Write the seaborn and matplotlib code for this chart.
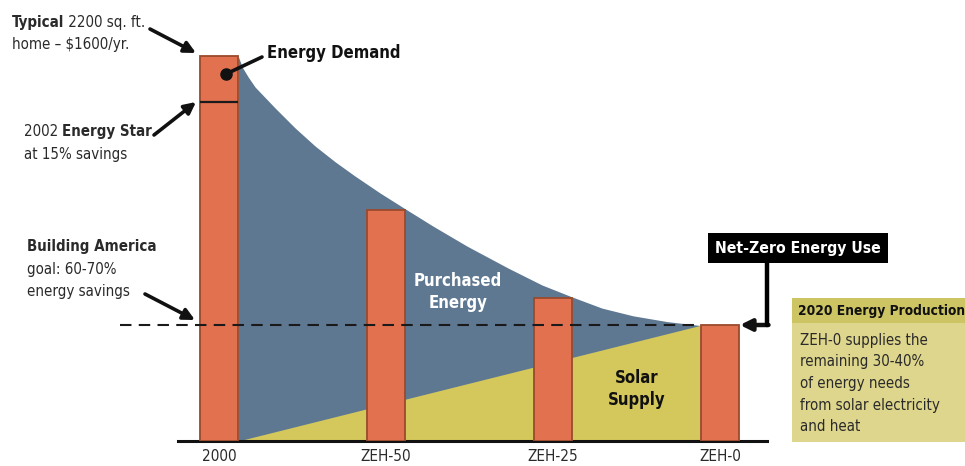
import numpy as np
import matplotlib
matplotlib.use("Agg")
import matplotlib.pyplot as plt
import matplotlib.font_manager as fm
from matplotlib.lines import Line2D
from matplotlib.patches import Rectangle
import seaborn as sns

# ---------------- data ----------------
categories = ["2000", "ZEH-50", "ZEH-25", "ZEH-0"]
demand = [100, 60, 37, 30]          # relative energy demand (2000 = 100)
energy_star = 88                    # 2002 Energy Star level
goal = 30                           # Building America goal level
# purchased-energy envelope
curve_x = [0.114, 0.140, 0.175, 0.216, 0.335, 0.455, 0.575, 0.695, 0.814, 0.964, 1.114,
           1.281, 1.485, 1.731, 1.934, 2.114, 2.293, 2.479, 2.683, 2.88]
curve_y = [100, 97.0, 94.5, 91.9, 86.5, 81.3, 76.6, 72.5, 68.8, 64.4, 60.3,
           55.8, 50.6, 44.9, 40.5, 37.4, 34.5, 32.5, 31.0, 30]
# solar supply wedge
solar_x = [0.114, 2.88]
solar_y = [0, 30]

# ---------------- style ----------------
sns.set_style("white")
names = {f.name for f in fm.fontManager.ttflist}
if "Liberation Sans Narrow" in names:
    FAM = ["Liberation Sans Narrow", "DejaVu Sans"]
    STRETCH = "normal"
else:
    FAM = ["DejaVu Sans"]
    STRETCH = "condensed"
plt.rcParams["font.family"] = FAM
plt.rcParams["font.stretch"] = STRETCH

ORANGE = "#E27150"
EDGE = "#9A4A2C"
BLUE = "#5E7892"
YELLOW = "#D4C85C"
BOX = "#DED68C"
BOXHEAD = "#CDC464"
TXT = "#2a2a2a"
FS = 10.8
FSB = 12

W, H = 965, 466
fig = plt.figure(figsize=(W / 100, H / 100), dpi=100)
ax = fig.add_axes([178 / W, (H - 441) / H, 589 / W, 441 / H])

def P(x, y):
    return (x, H - y)

# areas
ax.fill_between(curve_x, 0, curve_y, color=BLUE, lw=0, zorder=1)
ax.fill_between(solar_x, 0, solar_y, color=YELLOW, lw=0, zorder=1.5)

# bars
sns.barplot(x=categories, y=demand, width=0.23, color=ORANGE, saturation=1,
            edgecolor=EDGE, linewidth=1.3, ax=ax)
for p in ax.patches:
    p.set_zorder(3)

ax.hlines(energy_star, -0.115, 0.115, color="#1a1a1a", lw=1.6, zorder=4)
ax.hlines(goal, -0.593, 2.885, color="#1a1a1a", lw=1.5,
          linestyles=(0, (5.5, 3.5)), zorder=4, clip_on=False)

ax.set_xlim(-0.2455, 3.281)
ax.set_ylim(0, 114.5)
for s in ["top", "left", "right"]:
    ax.spines[s].set_visible(False)
ax.spines["bottom"].set_linewidth(2.2)
ax.spines["bottom"].set_color("#111111")
ax.set_yticks([])
ax.set_xlabel("")
ax.set_ylabel("")
ax.tick_params(axis="x", length=0, pad=6, labelsize=11, labelcolor=TXT)

# ---------------- annotations ----------------
def txt(x, y, s, size=FS, weight="normal", color=TXT, ha="left", va="baseline", z=8):
    return ax.annotate(s, xy=P(x, y), xycoords="figure pixels", fontsize=size,
                       fontweight=weight, color=color, ha=ha, va=va,
                       annotation_clip=False, zorder=z)

def pair(x, y, bold, normal, size=FS, bold_first=True):
    if bold_first:
        t1 = txt(x, y, bold, size, "bold", va="bottom")
        ax.annotate(normal, xy=(1, 0), xycoords=t1, fontsize=size, color=TXT,
                    ha="left", va="bottom", zorder=8)
    else:
        t1 = txt(x, y, normal, size, "normal", va="bottom")
        ax.annotate(bold, xy=(1, 0), xycoords=t1, fontsize=size, color=TXT,
                    fontweight="bold", ha="left", va="bottom", zorder=8)

def arrow(tail, head, lw=2.6):
    ax.annotate("", xy=P(*head), xytext=P(*tail), xycoords="figure pixels",
                textcoords="figure pixels", annotation_clip=False, zorder=8,
                arrowprops=dict(arrowstyle="-|>", lw=lw, color="#111111",
                                mutation_scale=17, shrinkA=0, shrinkB=0))

def frect(x0, y0, x1, y1, color, z):
    ax.add_patch(Rectangle((x0 / W, 1 - y1 / H), (x1 - x0) / W, (y1 - y0) / H,
                           transform=fig.transFigure, facecolor=color,
                           edgecolor="none", clip_on=False, zorder=z))

# Typical home
pair(12, 30, "Typical", " 2200 sq. ft.")
txt(12, 52, "home \u2013 $1600/yr.", va="bottom")
arrow((150, 29), (196, 53))

# Energy demand
txt(267, 58, "Energy Demand", size=FSB, weight="bold", color="#111111")
ax.annotate("", xy=P(262, 57), xytext=P(226, 74), xycoords="figure pixels",
            textcoords="figure pixels", annotation_clip=False, zorder=8,
            arrowprops=dict(arrowstyle="-", lw=2.6, color="#111111",
                            shrinkA=0, shrinkB=0))
fig.add_artist(Line2D([226 / W], [1 - 74 / H], marker="o", markersize=8,
                      color="#111111"))

# Energy Star
pair(24, 139, "Energy Star", "2002 ", bold_first=False)
txt(24, 162, "at 15% savings", va="bottom")
arrow((154, 135), (196, 102))

# Building America
txt(27, 254, "Building America", weight="bold", va="bottom")
txt(27, 277, "goal: 60-70%", va="bottom")
txt(27, 299, "energy savings", va="bottom")
arrow((145, 294), (195, 320))

# region labels
txt(458, 281, "Purchased", size=FSB, weight="bold", color="white", ha="center", va="center")
txt(458, 303, "Energy", size=FSB, weight="bold", color="white", ha="center", va="center")
txt(637, 378, "Solar", size=FSB, weight="bold", color="#111111", ha="center", va="center")
txt(637, 400, "Supply", size=FSB, weight="bold", color="#111111", ha="center", va="center")

# Net-zero box
frect(708, 233, 888, 263, "black", 6)
txt(798, 248, "Net-Zero Energy Use", size=11.3, weight="bold", color="white",
    ha="center", va="center")
fig.add_artist(Line2D([767 / W, 767 / W], [1 - 263 / H, 1 - 325 / H],
                      color="black", lw=3.2, transform=fig.transFigure))
arrow((768.5, 325), (740, 325), lw=3.2)

# 2020 box
frect(792, 298, 965, 442, BOX, 5)
frect(792, 298, 965, 323, BOXHEAD, 5.5)
txt(798, 311, "2020 Energy Production", size=9.9, weight="bold", color="#111111", va="center")
for i, line in enumerate(["ZEH-0 supplies the", "remaining 30-40%",
                          "of energy needs", "from solar electricity", "and heat"]):
    txt(800, 340 + i * 21.7, line, va="center")

fig.savefig("out.png", dpi=100)
